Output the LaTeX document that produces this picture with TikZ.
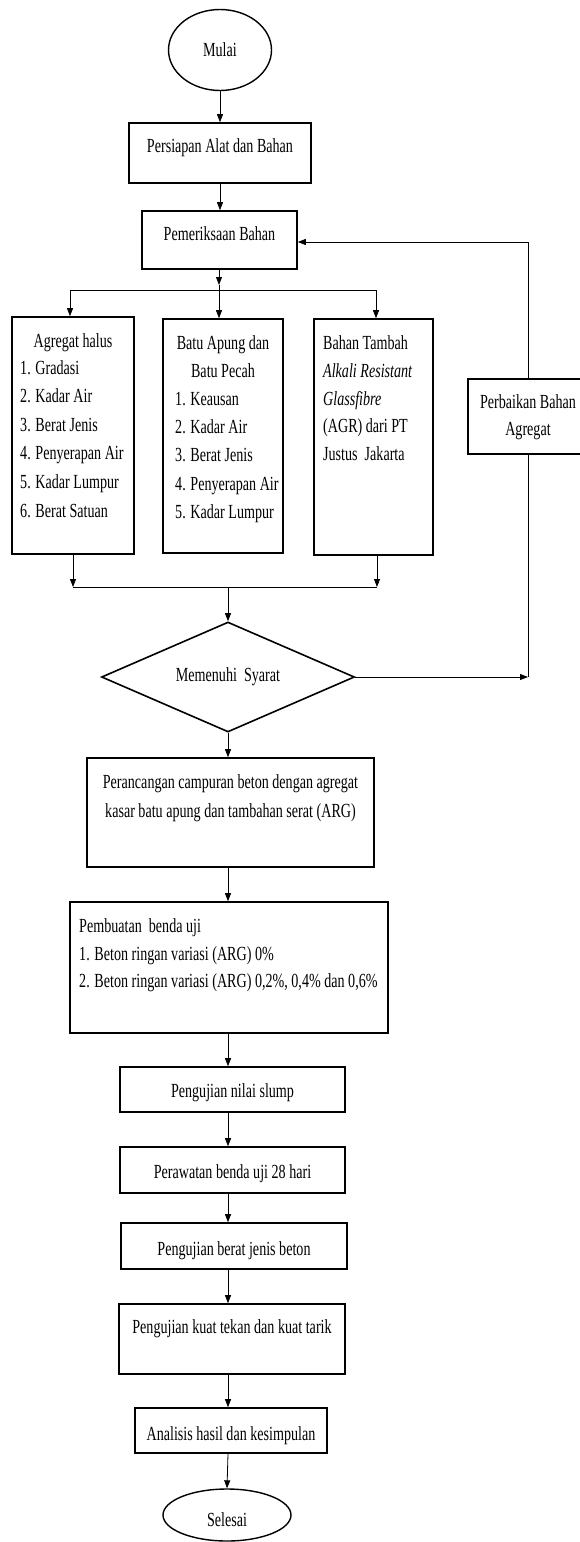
\documentclass[tikz,border=0pt]{standalone}
\usepackage{fontspec}
\setmainfont[FakeStretch=0.705]{Liberation Serif}
\usetikzlibrary{arrows.meta,shapes.geometric}
\tikzset{
  box/.style={draw, line width=1.6pt, inner sep=0pt},
  term/.style={draw, ellipse, line width=1.4pt, inner sep=0pt},
  decision/.style={draw, diamond, aspect=2.3, line width=1.6pt, inner sep=0pt},
  txt/.style={inner sep=0pt, text height=14pt, text depth=4pt},
  conn/.style={line width=0.8pt},
  arr/.style={conn, -{Triangle[length=8pt,width=6pt]}}
}
\begin{document}
\begin{tikzpicture}[x=1pt,y=-1pt,font=\fontsize{20}{28}\selectfont]
\useasboundingbox (0,0) rectangle (579,1542);

% start
\node[term, minimum width=103, minimum height=81] (start) at (220,50) {};
\node[txt] (startt) at (220,51) {Mulai};

% persiapan
\node[box, minimum width=182, minimum height=60] (prep) at (220,153) {};
\node[txt] (prept) at (220,147) {Persiapan Alat dan Bahan};

% pemeriksaan
\node[box, minimum width=155, minimum height=58] (pem) at (219.5,240) {};
\node[txt] (pemt) at (219.5,235) {Pemeriksaan Bahan};

% three material boxes
\node[box, minimum width=122, minimum height=237] (agr) at (73,435.5) {};
\node[txt] (agr0) at (73,342) {Agregat halus};
\foreach \t [count=\i] in {1. Gradasi, 2. Kadar Air, 3. Berat Jenis, 4. Penyerapan Air, 5. Kadar Lumpur, 6. Berat Satuan}
  \node[txt, anchor=west] (agr\i) at (20,{369+28.6*(\i-1)}) {\t};

\node[box, minimum width=120, minimum height=234] (batu) at (223,436) {};
\node[txt] (batuA) at (223,344) {Batu Apung dan};
\node[txt] (batuB) at (223,372) {Batu Pecah};
\foreach \t [count=\i] in {1. Keausan, 2. Kadar Air, 3. Berat Jenis, 4. Penyerapan Air, 5. Kadar Lumpur}
  \node[txt, anchor=west] (batu\i) at (175,{400+28.4*(\i-1)}) {\t};

\node[box, minimum width=119, minimum height=236] (tam) at (373.5,437) {};
\node[txt, anchor=west] (tam1) at (323,344) {Bahan Tambah};
\node[txt, anchor=west] (tam2) at (323,372) {\textit{Alkali Resistant}};
\node[txt, anchor=west] (tam3) at (323,400) {\textit{Glassfibre}};
\node[txt, anchor=west] (tam4) at (323,427) {(AGR) dari PT};
\node[txt, anchor=west] (tam5) at (323,455) {Justus\ \ Jakarta};

% perbaikan
\node[box, minimum width=120, minimum height=75] (perb) at (528,416.5) {};
\node[txt] (perb1) at (528,403) {Perbaikan Bahan};
\node[txt] (perb2) at (528,430) {Agregat};

% decision
\node[decision, minimum width=253, minimum height=110] (dec) at (228,677) {Memenuhi\ \ Syarat};

% perancangan
\node[box, minimum width=287, minimum height=109] (perc) at (230.5,812.5) {};
\node[txt] (perc1) at (230.5,783) {Perancangan campuran beton dengan agregat};
\node[txt] (perc2) at (230.5,812) {kasar batu apung dan tambahan serat (ARG)};

% pembuatan
\node[box, minimum width=318, minimum height=131] (pemb) at (229,967.5) {};
\node[txt, anchor=west] (pemb1) at (79,927) {Pembuatan\ \ benda uji};
\node[txt, anchor=west] (pemb2) at (79,955) {1. Beton ringan variasi (ARG) 0\%};
\node[txt, anchor=west] (pemb3) at (79,982) {2. Beton ringan variasi (ARG) 0,2\%, 0,4\% dan 0,6\%};

% tests
\node[box, minimum width=225, minimum height=45] (slump) at (232.5,1089.5) {};
\node[txt] (slumpt) at (232.5,1092) {Pengujian nilai slump};
\node[box, minimum width=225, minimum height=46] (rawat) at (232.5,1170) {};
\node[txt] (rawatt) at (232.5,1173) {Perawatan benda uji 28 hari};
\node[box, minimum width=226, minimum height=46] (bj) at (234,1246) {};
\node[txt] (bjt) at (234,1250) {Pengujian berat jenis beton};
\node[box, minimum width=226, minimum height=70] (kuat) at (232,1339) {};
\node[txt] (kuatt) at (232,1328) {Pengujian kuat tekan dan kuat tarik};
\node[box, minimum width=192, minimum height=45] (anal) at (231,1430.5) {};
\node[txt] (analt) at (231,1435) {Analisis hasil dan kesimpulan};
\node[term, minimum width=128, minimum height=52] (stop) at (227,1515) {};
\node[txt] (stopt) at (227,1521) {Selesai};

% coordinates
\coordinate (tc) at (219,0);
\coordinate (j1) at (219,285);
\coordinate (bl) at (70,290);
\coordinate (br) at (376,290);
\coordinate (ml) at (73,587);
\coordinate (mr) at (377,587);
\coordinate (mc) at (228,587);
\coordinate (dr) at (528,677);
\coordinate (fb) at (528,242);

% connectors top
\draw[arr] (start.south) -- (start.south |- prep.north);
\draw[arr] (prep.south) -- (prep.south |- pem.north);
\draw[arr] (tc |- pem.south) -- (j1);
\draw[arr] (j1) -- (j1 |- batu.north);
\draw[conn] (bl) -- (br);
\draw[arr] (bl) -- (bl |- agr.north);
\draw[arr] (br) -- (br |- tam.north);

% merge
\draw[arr] (ml |- agr.south) -- (ml);
\draw[arr] (mr |- tam.south) -- (mr);
\draw[conn] (ml) -- (mr);
\draw[arr] (mc) -- (dec.north);

% feedback loop
\draw[arr] (dec.east) -- (dr);
\draw[conn] (dr) -- (perb.south);
\draw[conn] (perb.north) -- (fb);
\draw[arr] (fb) -- (fb -| pem.east);

% lower chain
\draw[arr] (dec.south) -- (mc |- perc.north);
\draw[arr] (mc |- perc.south) -- (mc |- pemb.north);
\draw[arr] (mc |- pemb.south) -- (mc |- slump.north);
\draw[arr] (mc |- slump.south) -- (mc |- rawat.north);
\draw[arr] (mc |- rawat.south) -- (mc |- bj.north);
\draw[arr] (mc |- bj.south) -- (mc |- kuat.north);
\draw[arr] (mc |- kuat.south) -- (mc |- anal.north);
\draw[arr] (mc |- anal.south) -- (stop.north);
\end{tikzpicture}
\end{document}
